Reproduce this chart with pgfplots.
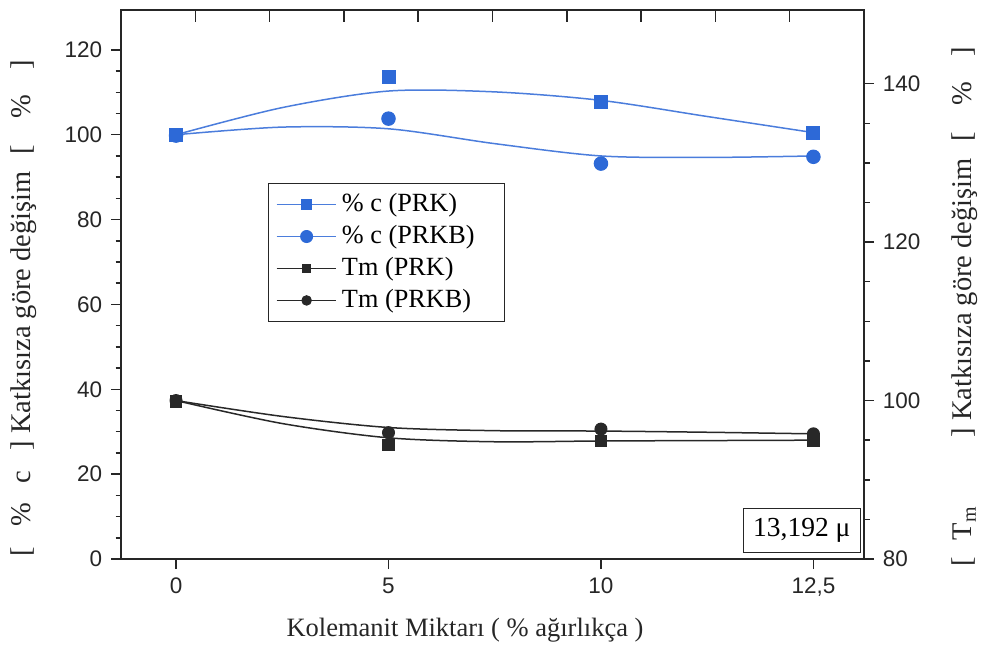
\documentclass[border=0pt]{standalone}
\usepackage{pgfplots}
\pgfplotsset{compat=1.18}
\usepackage{fontspec}
\setmainfont{Liberation Serif}
\setsansfont{Liberation Sans}
\definecolor{cblue}{RGB}{45,105,215}
\definecolor{lblue}{RGB}{75,125,220}
\definecolor{dk}{RGB}{40,40,40}
\begin{document}
\begin{tikzpicture}
\pgfplotsset{
  every axis/.append style={
    width=297.2pt, height=219.6pt, scale only axis,
    xmin=-0.259, xmax=3.238,
    axis line style={line width=0.8pt, black!85},
    /pgf/number format/assume math mode=true,
    tick label style={font=\fontsize{9}{10}\sffamily\selectfont, black!85},
    major tick length=4pt, minor tick length=2.2pt,
    every tick/.style={line width=0.6pt, black!85},
    label style={font=\fontsize{11.4}{12}\selectfont, black!85, inner sep=0pt},
  },
}
\begin{axis}[name=main,
  ymin=0, ymax=129.4, ytick={0,20,...,120}, minor y tick num=3,
  xtick={0,1,2,3}, xticklabels={0,5,10,{12,5}},
  xtick pos=bottom, ytick pos=left, tick align=outside,
  xlabel={Kolemanit Miktarı ( \% ağırlıkça )},
  xlabel style={at={(axis description cs:0.463,-0.129)}, anchor=center, font=\fontsize{10.6}{12}\selectfont},
  ylabel={[\hspace{0.7em}\%\hspace{0.7em}c\hspace{0.7em}] Katkısıza göre değişim\hspace{0.6em}[\hspace{0.9em}\%\hspace{0.9em}]},
  ylabel style={at={(axis description cs:-0.1306,0.004)}, anchor=west},
]
\addplot[smooth, lblue, line width=0.6pt] coordinates {(0,100) (0.5,106.4) (1,110.3) (1.5,110.1) (2,108.1) (2.5,104.3) (3,100.5)};
\addplot[smooth, lblue, line width=0.6pt] coordinates {(0,100) (0.5,101.8) (1,101.4) (1.5,97.9) (2,95.0) (2.5,94.65) (3,95.0)};
\addplot[only marks, mark=square*, mark size=2.6pt, cblue] coordinates {(0,100) (1,113.7) (2,107.8) (3,100.5)};
\addplot[only marks, mark=*, mark size=2.7pt, cblue] coordinates {(0,99.8) (1,103.8) (2,93.2) (3,94.8)};
\node[draw=black!85, line width=0.5pt, anchor=south east, inner xsep=4pt, inner ysep=4pt, font=\fontsize{11}{12}\selectfont, fill=white] at (rel axis cs:0.996,0.011) {13,192 μ};
\end{axis}
\begin{axis}[
  ymin=80, ymax=149.3, ytick={80,100,120,140}, minor y tick num=3,
  hide x axis, ytick pos=right, yticklabel pos=right, tick align=outside,
  ylabel={[\hspace{0.6em}T\textsubscript{m}\hspace{2.4em}] Katkısıza göre değişim\hspace{0.6em}[\hspace{0.9em}\%\hspace{0.9em}]},
  ylabel style={at={(axis description cs:1.136,-0.015)}, anchor=west},
  legend style={at={(0.198,0.685)}, anchor=north west, draw=black!85, line width=0.5pt,
    font=\fontsize{10.5}{12}\selectfont, cells={anchor=west}, inner xsep=3pt, inner ysep=2pt},
  legend image code/.code={\draw[mark repeat=2,mark phase=2,#1] plot coordinates {(0cm,0cm) (0.42cm,0cm) (0.84cm,0cm)};},
]
\addlegendimage{lblue, line width=0.4pt, mark=square*, mark size=2pt, mark options={cblue}}
\addlegendentry{\% c (PRK)}
\addlegendimage{lblue, line width=0.4pt, mark=*, mark size=2.4pt, mark options={cblue}}
\addlegendentry{\% c (PRKB)\hspace*{7pt}}
\addlegendimage{dk, line width=0.4pt, mark=square*, mark size=1.7pt}
\addlegendentry{Tm (PRK)}
\addlegendimage{dk, line width=0.4pt, mark=*, mark size=1.9pt}
\addlegendentry{Tm (PRKB)}
\addplot[forget plot, smooth, dk, line width=0.6pt] coordinates {(0,100) (0.5,97.1) (1,95.3) (1.5,94.8) (2,94.9) (2.5,94.95) (3,95.0)};
\addplot[forget plot, smooth, dk, line width=0.6pt] coordinates {(0,100) (0.5,98.0) (1,96.6) (1.5,96.2) (2,96.15) (2.5,96.0) (3,95.8)};
\addplot[forget plot, only marks, mark=square*, mark size=2.3pt, dk] coordinates {(0,99.9) (1,94.4) (2,94.9) (3,94.9)};
\addplot[forget plot, only marks, mark=*, mark size=2.4pt, dk] coordinates {(0,100) (1,95.95) (2,96.4) (3,95.8)};
\end{axis}
\begin{axis}[
  hide y axis, xtick={0,1,2,3}, xticklabels={}, xtick pos=top, xticklabel pos=bottom, tick align=inside, major tick length=5pt,
]
\end{axis}
\path (main.south west) ++(-48.4pt,-36.8pt);
\path (main.north east) ++(49.6pt,4pt);
\end{tikzpicture}
\end{document}
